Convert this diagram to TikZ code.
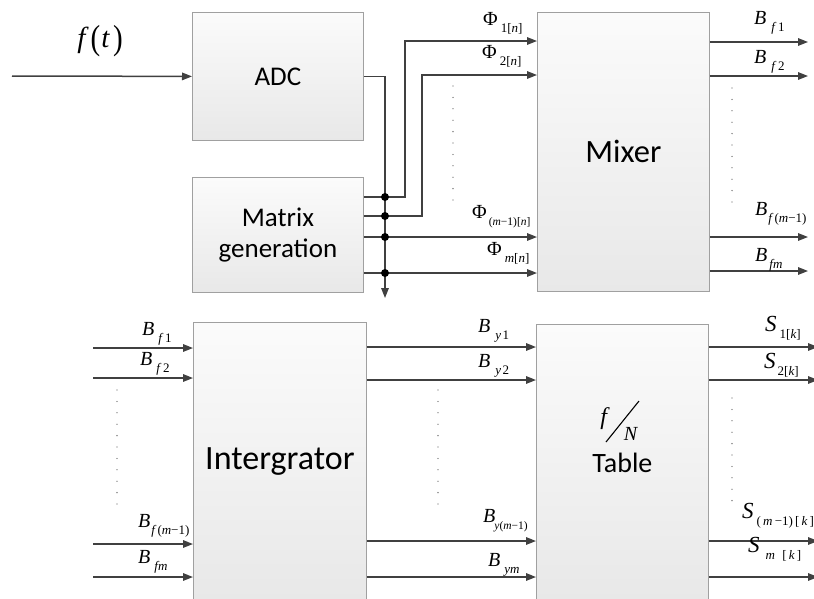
\documentclass[tikz,border=0pt]{standalone}
\usepackage{graphicx}
\usepackage{fontspec}
\setmainfont{Carlito}
\newfontfamily\tms{Liberation Serif}
\usetikzlibrary{arrows.meta}
\definecolor{wiregray}{HTML}{404040}
\definecolor{boxgray}{HTML}{A0A0A0}
\definecolor{boxtop}{HTML}{FBFBFB}
\definecolor{boxbot}{HTML}{E8E8E8}
\newcommand\lbl[3]{{\tms\fontsize{#1}{#1}\selectfont #2}\raisebox{-7pt}{\tms\fontsize{13}{13}\selectfont #3}}
\tikzset{
  box/.style={draw=boxgray, line width=0.8pt, top color=boxtop, bottom color=boxbot, inner sep=0pt, anchor=north west, align=center},
  wire/.style={draw=wiregray, line width=1.5pt},
  arr/.style={wire, -{Triangle[length=10pt,width=7.5pt]}},
  jdot/.style={circle, fill=black, inner sep=0pt, minimum size=8pt},
  vdots/.style={draw=black!65, line width=1.3pt, dash pattern=on 0pt off 11.4pt, line cap=round},
  lab/.style={anchor=base west, inner sep=0pt},
}
\begin{document}
\begin{tikzpicture}[x=1pt,y=-1pt]
\useasboundingbox (0,0) rectangle (814,598);

% ---------- boxes ----------
\node[box, minimum width=171pt, minimum height=128pt, font=\fontsize{27}{30}\selectfont] (adc) at (192,12) {ADC};
\node[box, minimum width=171pt, minimum height=115pt, font=\fontsize{27}{31}\selectfont] (mat) at (192,177) {Matrix\\generation};
\node[box, minimum width=172pt, minimum height=279pt, font=\fontsize{32.5}{36}\selectfont] (mix) at (537,12) {Mixer};
\node[box, minimum width=173pt, minimum height=278pt, font=\fontsize{34}{38}\selectfont] (int) at (193,322) {Intergrator};
\node[box, minimum width=172pt, minimum height=276pt, font=\fontsize{28}{30}\selectfont] (tab) at (536,324) {Table};

% f / N inside the table box
\node[inner sep=0pt] (fN-f) at (605,419) {\tms\fontsize{24}{24}\selectfont\textit{f}};
\node[inner sep=0pt] (fN-N) at (631,434) {\tms\fontsize{20}{20}\selectfont\textit{N}};
\draw[line width=1.1pt] (606,442) -- (639,401);

% ---------- input ----------
\node[inner sep=0pt] (ft) at (100,41) {\tms\fontsize{29}{29}\selectfont\textit{f}\kern2pt\raisebox{-2pt}{\scalebox{1}[1.2]{(}}\kern1pt\textit{t}\kern3pt\raisebox{-2pt}{\scalebox{1}[1.2]{)}}};
\coordinate (fin) at (12,76);
\draw[arr] (fin) -- (adc.west);

% ---------- ADC to bus ----------
\coordinate (busend) at (385,298);
\draw[arr] (adc.east) -| (busend);

% ---------- matrix outputs ----------
\draw[arr] (mat.east |- 0,197) -| (405,41) -- (mix.west |- 0,41);
\draw[arr] (mat.east |- 0,216) -| (422,75) -- (mix.west |- 0,75);
\draw[arr] (mat.east |- 0,237) -- (mix.west |- 0,237);
\draw[arr] (mat.east |- 0,273) -- (mix.west |- 0,273);
\node[jdot] (j1) at (385,197) {};
\node[jdot] (j2) at (385,216) {};
\node[jdot] (j3) at (385,237) {};
\node[jdot] (j4) at (385,273) {};
\draw[vdots] (453,86) -- (453,200);

\node[lab] (p1) at (483,25) {\lbl{20}{Φ}{\kern3pt 1[\textit{n}]}};
\node[lab] (p2) at (482,58) {\lbl{20}{Φ}{\kern3pt 2[\textit{n}]}};
\node[lab] (p3) at (472,218) {\lbl{20}{Φ}{\kern2pt\fontsize{11.5}{11.5}\selectfont(\textit{m}−1)[\textit{n}]}};
\node[lab] (p4) at (487,255) {\lbl{20}{Φ}{\kern3pt\textit{m}[\textit{n}]}};

% ---------- mixer outputs ----------
\coordinate (mo1) at (808,42);
\coordinate (mo2) at (808,76);
\coordinate (mo3) at (808,237);
\coordinate (mo4) at (808,271);
\draw[arr] (mix.east |- mo1) -- (mo1);
\draw[arr] (mix.east |- mo2) -- (mo2);
\draw[arr] (mix.east |- mo3) -- (mo3);
\draw[arr] (mix.east |- mo4) -- (mo4);
\draw[vdots] (732,88) -- (732,202);

\node[lab] (bf1) at (754,24) {\lbl{20}{\textit{B}}{\kern5pt\textit{f}\kern1.5pt 1}};
\node[lab] (bf2) at (754,63) {\lbl{20}{\textit{B}}{\kern5pt\textit{f}\kern1.5pt 2}};
\node[lab] (bf3) at (755,215) {\lbl{20}{\textit{B}}{\kern1pt\textit{f}\kern1pt(\textit{m}−1)}};
\node[lab] (bf4) at (755,261) {\lbl{20}{\textit{B}}{\kern2pt\textit{fm}}};

% ---------- integrator inputs ----------
\coordinate (ii1) at (93,348);
\coordinate (ii2) at (93,378);
\coordinate (ii3) at (93,544);
\coordinate (ii4) at (93,577);
\draw[arr] (ii1) -- (int.west |- ii1);
\draw[arr] (ii2) -- (int.west |- ii2);
\draw[arr] (ii3) -- (int.west |- ii3);
\draw[arr] (ii4) -- (int.west |- ii4);
\draw[vdots] (117,390) -- (117,505);

\node[lab] (if1) at (142,335) {\lbl{20}{\textit{B}}{\kern4pt\textit{f}\kern1.5pt 1}};
\node[lab] (if2) at (140,365) {\lbl{20}{\textit{B}}{\kern4pt\textit{f}\kern1.5pt 2}};
\node[lab] (if3) at (138,527) {\lbl{20}{\textit{B}}{\kern1pt\textit{f}\kern1pt(\textit{m}−1)}};
\node[lab] (if4) at (138,563) {\lbl{20}{\textit{B}}{\kern4pt\textit{fm}}};

% ---------- integrator to table ----------
\draw[arr] (int.east |- 0,347) -- (tab.west |- 0,347);
\draw[arr] (int.east |- 0,380) -- (tab.west |- 0,380);
\draw[arr] (int.east |- 0,541) -- (tab.west |- 0,541);
\draw[arr] (int.east |- 0,577) -- (tab.west |- 0,577);
\draw[vdots] (438,390) -- (438,505);

\node[lab] (by1) at (478,332) {\lbl{20}{\textit{B}}{\kern5pt\textit{y}\kern1.5pt 1}};
\node[lab] (by2) at (478,367) {\lbl{20}{\textit{B}}{\kern5pt\textit{y}\kern1.5pt 2}};
\node[lab] (by3) at (483,522) {\lbl{20}{\textit{B}}{\kern-1pt\fontsize{11.5}{11.5}\selectfont\textit{y}(\textit{m}−1)}};
\node[lab] (by4) at (488,566) {\lbl{20}{\textit{B}}{\kern4pt\textit{ym}}};

% ---------- table outputs ----------
\coordinate (to1) at (818,347);
\coordinate (to2) at (818,380);
\coordinate (to3) at (818,541);
\coordinate (to4) at (818,577);
\draw[arr] (tab.east |- to1) -- (to1);
\draw[arr] (tab.east |- to2) -- (to2);
\draw[arr] (tab.east |- to3) -- (to3);
\draw[arr] (tab.east |- to4) -- (to4);
\draw[vdots] (732,398) -- (732,502);

\node[lab] (s1) at (765,331) {\lbl{23}{\textit{S}}{\kern3pt 1[\textit{k}]}};
\node[lab] (s2) at (764,368) {\lbl{23}{\textit{S}}{\kern2pt 2[\textit{k}]}};
\node[lab] (s3) at (742,518) {\lbl{23}{\textit{S}}{\kern3pt(\,\textit{m}\,−1)\,[\,\textit{k}\,]}};
\node[lab] (s4) at (748,552) {\lbl{23}{\textit{S}}{\kern6pt\textit{m}\;\;[\,\textit{k}\,]}};
\end{tikzpicture}
\end{document}
